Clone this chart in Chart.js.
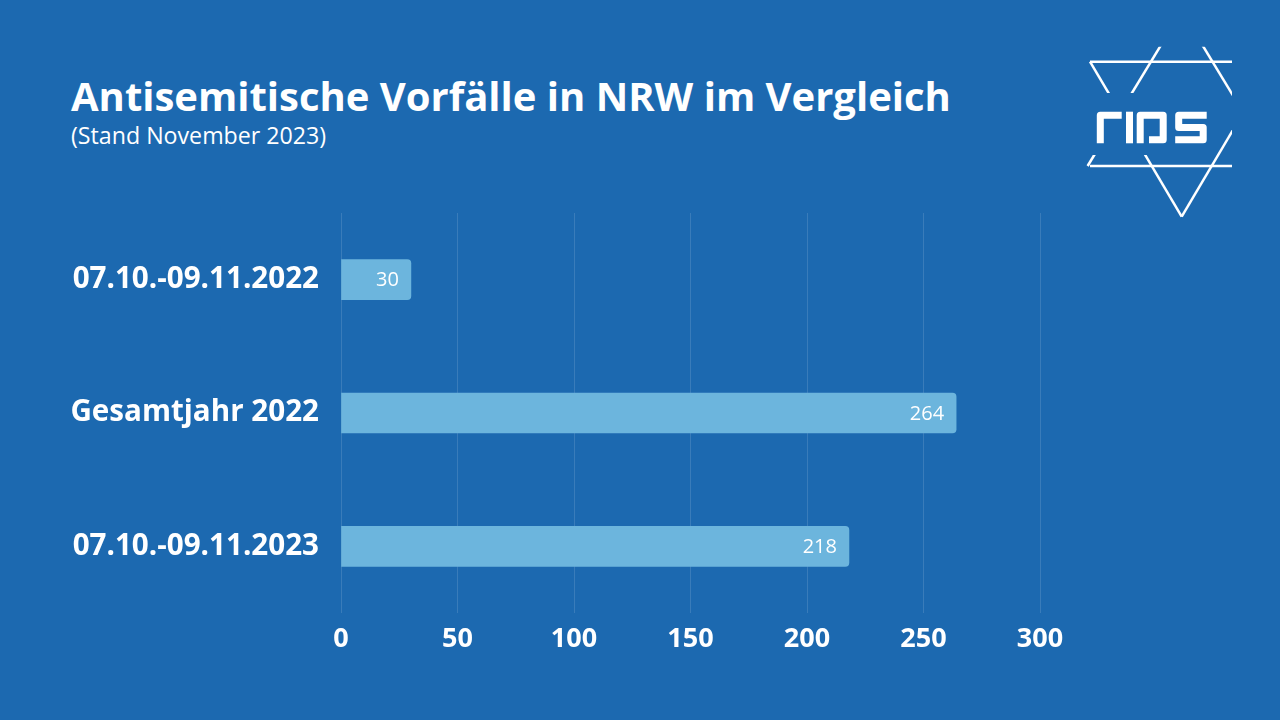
<!DOCTYPE html>
<html lang="de">
<head>
<meta charset="utf-8">
<title>Antisemitische Vorfälle in NRW im Vergleich</title>
<script src="https://cdn.jsdelivr.net/npm/chart.js@4.4.1/dist/chart.umd.min.js"></script>
<style>
  html, body { margin: 0; padding: 0; }
  body { width: 1280px; height: 720px; background: #1c69b0; position: relative; overflow: hidden; font-family: 'Open Sans', sans-serif; color: #fff; }
  #title { position: absolute; left: 71px; top: 76px; font-size: 40px; font-weight: 700; line-height: 1; white-space: nowrap; }
  #subtitle { position: absolute; left: 71px; top: 124px; font-size: 23.2px; font-weight: 400; line-height: 1; white-space: nowrap; }
  #chart { position: absolute; left: 0; top: 0; }
  #logo { position: absolute; left: 0; top: 0; }
</style>
</head>
<body>
<div id="title">Antisemitische Vorfälle in NRW im Vergleich</div>
<div id="subtitle">(Stand November 2023)</div>
<canvas id="chart" width="1280" height="720"></canvas>

<svg id="logo" width="1280" height="720" viewBox="0 0 1280 720">
  <defs>
    <clipPath id="logoClip"><rect x="1080" y="46.7" width="152" height="175"></rect></clipPath>
    <mask id="logoGap">
      <rect x="0" y="0" width="1280" height="720" fill="#fff"></rect>
      <rect x="1080" y="93" width="135" height="62" fill="#000"></rect>
    </mask>
  </defs>
  <g clip-path="url(#logoClip)">
    <g mask="url(#logoGap)" stroke="#fff" stroke-width="2.5" fill="none">
      <line x1="1090" y1="61.7" x2="1232" y2="61.7"></line>
      <line x1="1090" y1="166" x2="1232" y2="166"></line>
      <line x1="1090" y1="61.7" x2="1181.7" y2="216.7"></line>
      <line x1="1273.3" y1="61.7" x2="1181.7" y2="216.7"></line>
      <line x1="1181.7" y1="11" x2="1087.6" y2="166"></line>
      <line x1="1181.7" y1="11" x2="1275.8" y2="166"></line>
    </g>
  </g>
  <!-- "rias" lettering -->
  <g stroke="#fff" stroke-width="7" fill="none" stroke-linejoin="round">
    <path d="M1100.3,143.3 V115.2 H1121.7"></path>
    <path d="M1129.5,111.7 V143.3"></path>
    <path d="M1140.2,143.3 V115.2 H1163.2 V139.8 H1149"></path>
    <path d="M1206.7,115.2 H1178.7 V127.5 H1203.2 V139.8 H1175.2"></path>
  </g>
</svg>

<script>
// ─────────────────────────────────────────────────────────────────────────────
// DATA
// ─────────────────────────────────────────────────────────────────────────────

const CATEGORIES = ['07.10.-09.11.2022', 'Gesamtjahr 2022', '07.10.-09.11.2023'];
const INCIDENTS  = [30, 264, 218];
const X_TICKS    = [0, 50, 100, 150, 200, 250, 300];

const BAR_COLOR  = '#6cb5dd';
const GRID_COLOR = 'rgba(255, 255, 255, 0.13)';

// ─────────────────────────────────────────────────────────────────────────────
// PLUGINS
// ─────────────────────────────────────────────────────────────────────────────

// value labels inside the bar end
const barValueLabels = {
  id: 'barValueLabels',
  afterDatasetsDraw(chart) {
    const ctx = chart.ctx;
    const meta = chart.getDatasetMeta(0);
    ctx.save();
    ctx.fillStyle = '#fff';
    ctx.font = '500 20px "Open Sans"';
    ctx.textAlign = 'right';
    ctx.textBaseline = 'middle';
    meta.data.forEach((bar, i) => {
      ctx.fillText(String(INCIDENTS[i]), bar.x - 12, bar.y + 1);
    });
    ctx.restore();
  },
};

// ─────────────────────────────────────────────────────────────────────────────
// CHART
// ─────────────────────────────────────────────────────────────────────────────

function initChart() {
  const ctx = document.getElementById('chart').getContext('2d');
  return new Chart(ctx, {
    type: 'bar',
    data: {
      labels: CATEGORIES,
      datasets: [{
        data: INCIDENTS,
        backgroundColor: BAR_COLOR,
        borderRadius: 4,
        barThickness: 40,
      }],
    },
    options: {
      indexAxis: 'y',
      responsive: false,
      animation: false,
      layout: { padding: { top: 213, right: 240, bottom: 0, left: 0 } },
      plugins: {
        legend: { display: false },
        tooltip: { enabled: false },
      },
      scales: {
        x: {
          min: X_TICKS[0],
          max: X_TICKS[X_TICKS.length - 1],
          afterBuildTicks: scale => { scale.ticks = X_TICKS.map(v => ({ value: v })); },
          afterFit: scale => { scale.height = 107; },
          grid: { color: GRID_COLOR, lineWidth: 1, drawTicks: false },
          border: { display: false },
          ticks: { color: '#fff', padding: 10, font: { family: 'Open Sans', size: 27, weight: '700' } },
        },
        y: {
          afterFit: scale => { scale.width = 341; },
          grid: { display: false, drawTicks: false },
          border: { display: false },
          ticks: { color: '#fff', padding: 22, font: { family: 'Open Sans', size: 29.6, weight: '700' } },
        },
      },
    },
    plugins: [barValueLabels],
  });
}

document.addEventListener('DOMContentLoaded', initChart);
</script>
</body>
</html>
